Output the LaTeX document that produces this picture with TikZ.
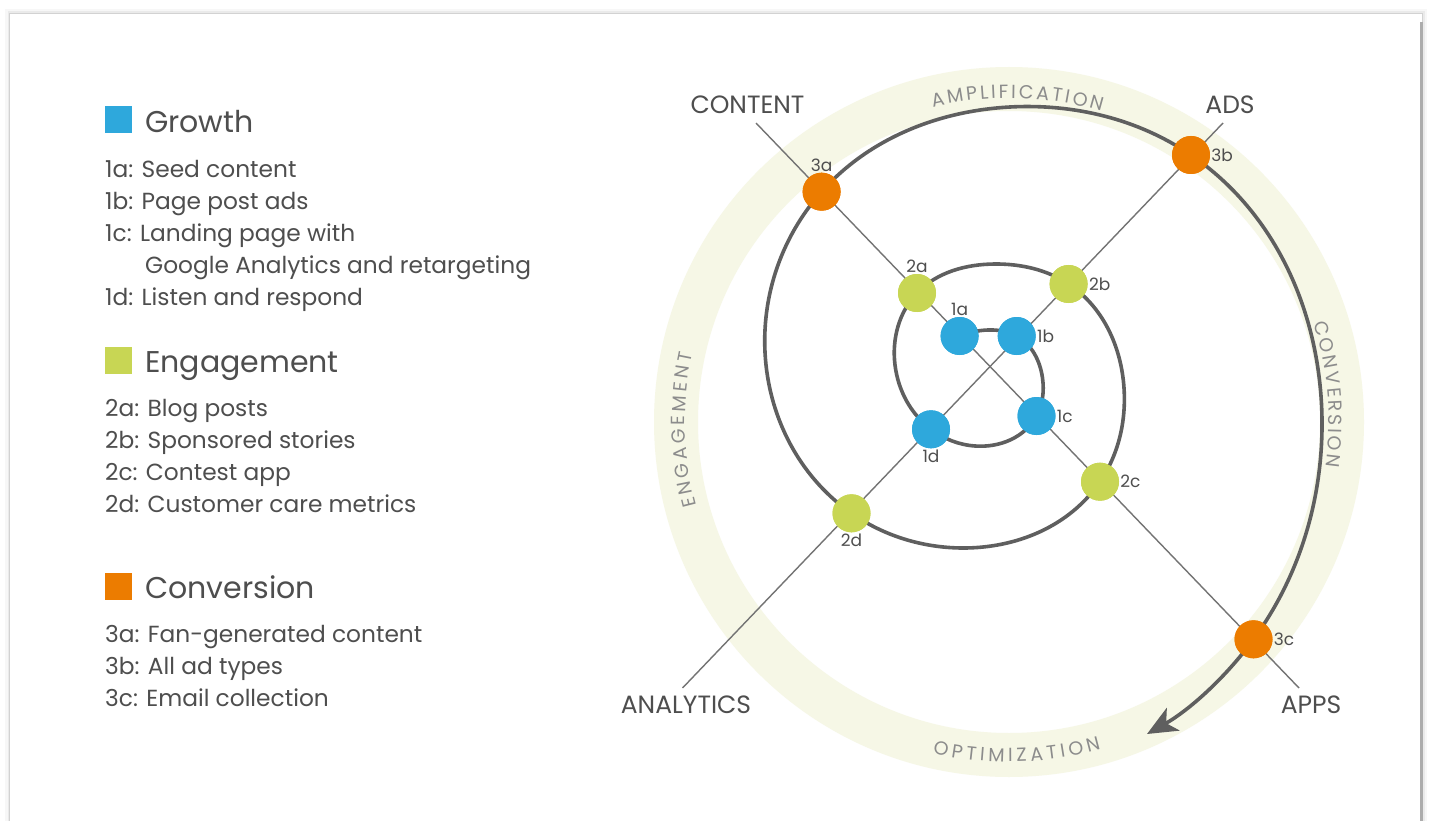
\documentclass[tikz,border=0pt]{standalone}
\usepackage{fontspec}
\setmainfont{Poppins}
\usepackage{xcolor}
\usepackage{tikz}
\usetikzlibrary{positioning, arrows.meta, decorations.text, hobby}
\definecolor{growthblue}{RGB}{46,168,220}
\definecolor{engagegreen}{RGB}{200,214,84}
\definecolor{convorange}{RGB}{236,124,0}
\definecolor{bandgreen}{RGB}{246,247,230}
\definecolor{spiralgray}{RGB}{95,95,95}
\definecolor{linegray}{RGB}{115,115,115}
\definecolor{txtgray}{RGB}{78,78,78}
\definecolor{ringtxt}{RGB}{140,140,140}
\tikzset{
    stagenode/.style = {circle, draw=none, minimum size=38pt, inner sep=0pt, label distance=6pt},
    bluenode/.style = {stagenode, fill=growthblue},
    greennode/.style = {stagenode, fill=engagegreen},
    orangenode/.style = {stagenode, fill=convorange},
    numlabel/.style = {text=txtgray, font=\fontsize{17}{17}\selectfont, inner sep=1pt},
    keynode/.style = {rectangle, draw=none, minimum size=27pt, inner sep=0pt},
    headnode/.style = {text=txtgray, font=\fontsize{30}{30}\selectfont, inner sep=0pt, anchor=base west},
    itemnode/.style = {text=txtgray, font=\fontsize{23.3}{32}\selectfont, inner sep=0pt, 
      anchor=base west, align=left},
    axisnode/.style = {text=txtgray, font=\fontsize{25}{25}\selectfont, inner sep=0pt},
    axisline/.style = {draw=linegray, line width=1.4pt},
    spiral/.style = {draw=spiralgray, line width=3.6pt, -{Stealth[length=30pt, width=26pt, inset=8pt]}},
    ringtext/.style = {decorate, decoration={text along path, text align={fit to path}, 
      text color=ringtxt, text={|\fontsize{19}{19}\selectfont|#1}}}
}

\begin{document}
\begin{tikzpicture}[x=1pt, y=1pt]
    \useasboundingbox (0,0) rectangle (1430,-821);
    \fill[white] (0,0) rectangle (1430,-821);
    \draw[black, opacity=0.03, line width=10pt] (10,-14) rectangle (1422,-840);
    \draw[black, opacity=0.05, line width=5pt] (10,-14) rectangle (1422,-840);
    \draw[black, opacity=0.10, line width=2pt] (10,-14) rectangle (1422,-840);
    \fill[white] (10,-14) rectangle (1422,-840);
    \draw[gray!65, line width=2.5pt] (1421.5,-22) -- (1421.5,-821);

    % legend
    \node [name=growthKey, keynode, fill=growthblue] at (118.5,-120) {};
    \node [name=growthHead, headnode] at (145,-133) {Growth};
    \node [name=growthList, itemnode] at (105,-305.5) {1a: Seed content\\1b: Page post ads\\
      1c: Landing page with\\\hspace*{40pt}Google Analytics and retargeting\\1d: Listen and respond};

    \node [name=engageKey, keynode, fill=engagegreen] at (118.5,-360) {};
    \node [name=engageHead, headnode] at (145,-372.7) {Engagement};
    \node [name=engageList, itemnode] at (105,-512.7) {2a: Blog posts\\2b: Sponsored stories\\
      2c: Contest app\\2d: Customer care metrics};

    \node [name=convKey, keynode, fill=convorange] at (118.5,-586) {};
    \node [name=convHead, headnode] at (145,-598.3) {Conversion};
    \node [name=convList, itemnode] at (105,-706) {3a: Fan-generated content\\3b: All ad types\\
      3c: Email collection};

    % ring
    \draw[bandgreen, line width=44pt] (1009,-422) circle (333);
    \path[ringtext=AMPLIFICATION] (1009,-422) ++(103.6:324) arc[start angle=103.6, end angle=73.4, radius=324];
    \path[ringtext=ENGAGEMENT] (1009,-422) ++(195:324) arc[start angle=195, end angle=167.8, radius=324];
    \path[ringtext=CONVERSION] (1009,-422) ++(18:320) arc[start angle=18, end angle=-8, radius=320];
    \path[ringtext=OPTIMIZATION] (1009,-422) ++(257:340) arc[start angle=257, end angle=285.7, radius=340];

    \node [name=content, axisnode] at (747.5,-105) {CONTENT};
    \node [name=ads, axisnode] at (1230,-105) {ADS};
    \node [name=analytics, axisnode] at (686,-705) {ANALYTICS};
    \node [name=apps, axisnode] at (1311,-705) {APPS};
    \coordinate (contentEnd) at (756,-123);
    \coordinate (adsEnd) at (1223,-123);
    \coordinate (analyticsEnd) at (682.5,-688);
    \coordinate (appsEnd) at (1299,-688);
    \draw[axisline] (contentEnd) -- (appsEnd);
    \draw[axisline] (adsEnd) -- (analyticsEnd);

    % stages
    \node [name=n1a, bluenode, label={[numlabel]above:1a}] at (959.6,-336) {};
    \node [name=n1b, bluenode, label={[numlabel]right:1b}] at (1016.7,-336) {};
    \node [name=n1c, bluenode, label={[numlabel]right:1c}] at (1036.5,-416) {};
    \node [name=n1d, bluenode, label={[numlabel]below:1d}] at (931,-429.3) {};
    \node [name=n2a, greennode, label={[numlabel]above:2a}] at (917,-293) {};
    \node [name=n2b, greennode, label={[numlabel]right:2b}] at (1068.6,-284) {};
    \node [name=n2c, greennode, label={[numlabel]right:2c}] at (1100,-481.7) {};
    \node [name=n2d, greennode, label={[numlabel]below:2d}] at (851.5,-513.3) {};
    \node [name=n3a, orangenode, label={[numlabel]above:3a}] at (821.6,-191.7) {};
    \node [name=n3b, orangenode, label={[numlabel]right:3b}] at (1191,-155) {};
    \node [name=n3c, orangenode, label={[numlabel]right:3c}] at (1253.5,-639.3) {};

    \coordinate (inTop) at (988,-330);
    \coordinate (inRight) at (1042.5,-378);
    \coordinate (inBottom) at (975,-446);
    \coordinate (midLeft) at (895,-365);
    \coordinate (midTop) at (995,-264);
    \coordinate (midRight) at (1124,-388);
    \coordinate (midBottom) at (962,-548);
    \coordinate (outLeft) at (766,-365);
    \coordinate (outTop) at (1010,-107);
    \coordinate (outRight) at (1322,-420);
    \coordinate (arrowTip) at (1147,-734);
    \draw[spiral, use Hobby shortcut] (n1a.center) .. (inTop) .. (n1b.center) .. (inRight) .. (n1c.center)
      .. (inBottom) .. (n1d.center) .. (midLeft) .. (n2a.center) .. (midTop) .. (n2b.center) .. (midRight)
      .. (n2c.center) .. (midBottom) .. (n2d.center) .. (outLeft) .. (n3a.center) .. (outTop)
      .. (n3b.center) .. (outRight) .. (n3c.center) .. (arrowTip);
    \foreach \s in {n1a,n1b,n1c,n1d} \fill[growthblue] (\s) circle (19);
    \foreach \s in {n2a,n2b,n2c,n2d} \fill[engagegreen] (\s) circle (19);
    \foreach \s in {n3a,n3b,n3c} \fill[convorange] (\s) circle (19);
\end{tikzpicture}
\end{document}
